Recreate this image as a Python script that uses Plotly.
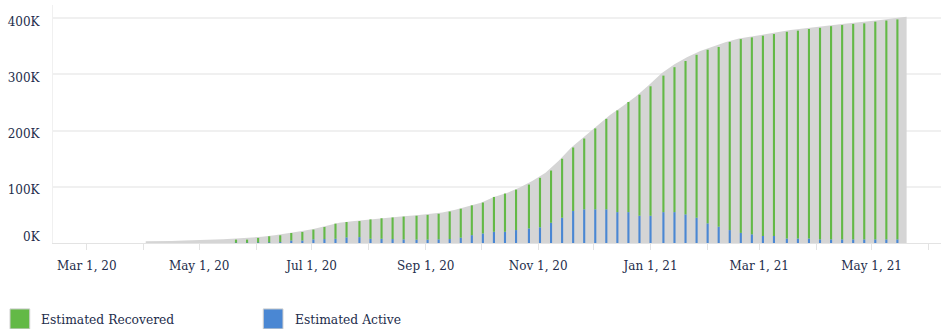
import plotly.graph_objects as go

# Estimated active / recovered cases (thousands) at each sample date
sample_dates = [
    "2020-05-21", "2020-05-27", "2020-06-02", "2020-06-08", "2020-06-14", "2020-06-20",
    "2020-06-26", "2020-07-02", "2020-07-08", "2020-07-14", "2020-07-20", "2020-07-27",
    "2020-08-02", "2020-08-08", "2020-08-14", "2020-08-20", "2020-08-27", "2020-09-02",
    "2020-09-08", "2020-09-14", "2020-09-20", "2020-09-26", "2020-10-02", "2020-10-08",
    "2020-10-14", "2020-10-20", "2020-10-27", "2020-11-02", "2020-11-08", "2020-11-14",
    "2020-11-20", "2020-11-26", "2020-12-02", "2020-12-08", "2020-12-14", "2020-12-20",
    "2020-12-26", "2021-01-01", "2021-01-08", "2021-01-14", "2021-01-20", "2021-01-26",
    "2021-02-01", "2021-02-07", "2021-02-13", "2021-02-19", "2021-02-25", "2021-03-03",
    "2021-03-09", "2021-03-16", "2021-03-22", "2021-03-28", "2021-04-03", "2021-04-09",
    "2021-04-15", "2021-04-21", "2021-04-27", "2021-05-03", "2021-05-09", "2021-05-15",
]
active_k = [
    0.5, 0.5, 0.8, 1, 1.5, 4.5, 4.5, 6.5, 7, 7.5, 10, 10.5,
    7.5, 7.5, 7, 6.5, 6, 6, 6.5, 7, 9.5, 14, 17, 20,
    20, 23, 26, 28, 36, 45, 57, 60, 60, 60, 55, 55,
    48.5, 48.5, 55, 55, 51, 45, 35, 29, 23, 18, 15.5, 12.5,
    12.5, 8, 8, 8, 6.5, 6.5, 6.5, 6.5, 6.5, 6.5, 6.5, 6.5,
]
recovered_k = [
    5.5, 5.5, 8.2, 11, 12.2, 13.3, 15.1, 17.3, 21.5, 27, 27.4, 28.5,
    34.5, 36.5, 38.5, 40.5, 42.5, 44, 45.5, 49, 51.5, 53, 55, 62,
    68, 72, 78, 88, 93, 105, 113, 126, 144, 161, 181, 196,
    215.5, 230.5, 243, 258, 273, 290, 309, 320, 335, 345, 350.5, 356.5,
    359.5, 368, 370, 373, 376.5, 379.5, 381.5, 383.5, 384.5, 387.5, 389.5, 391.5,
]

# Total cases (thousands), weekly
total_dates = [
    "2020-04-02", "2020-04-09", "2020-04-16", "2020-04-23", "2020-04-30", "2020-05-07",
    "2020-05-14", "2020-05-21", "2020-05-28", "2020-06-04", "2020-06-11", "2020-06-18",
    "2020-06-25", "2020-07-02", "2020-07-09", "2020-07-16", "2020-07-23", "2020-07-30",
    "2020-08-06", "2020-08-13", "2020-08-20", "2020-08-27", "2020-09-03", "2020-09-10",
    "2020-09-17", "2020-09-24", "2020-10-01", "2020-10-08", "2020-10-15", "2020-10-22",
    "2020-10-29", "2020-11-05", "2020-11-12", "2020-11-19", "2020-11-26", "2020-12-03",
    "2020-12-10", "2020-12-17", "2020-12-24", "2020-12-31", "2021-01-07", "2021-01-14",
    "2021-01-21", "2021-01-28", "2021-02-04", "2021-02-11", "2021-02-18", "2021-02-25",
    "2021-03-04", "2021-03-11", "2021-03-18", "2021-03-25", "2021-04-01", "2021-04-08",
    "2021-04-15", "2021-04-22", "2021-04-29", "2021-05-06", "2021-05-13", "2021-05-20",
]
total_k = [
    3, 3, 3.5, 4.5, 5, 5.3, 6.5, 8, 9, 11, 14, 17,
    21, 25, 30, 36, 38.5, 41, 43.5, 45.5, 47.5, 49.5, 51.5, 54.5,
    59, 65.5, 71.5, 82, 89, 99, 111, 125, 146, 170, 189, 208,
    228, 244, 261, 281, 302, 318, 331, 342, 350, 358, 364, 368,
    372, 375, 379, 382, 384, 387, 390, 392, 394.5, 397, 400, 403,
]

y_ticks = [0, 100, 200, 300, 400]
y_tick_labels = ["", "100K", "200K", "300K", "400K"]
zero_label = "0K"

FONT = "DejaVu Serif"
TEXT = "#232d4b"
GREEN = "#63b946"
BLUE = "#4a87d3"
GRAY = "#d5d5d5"
DAY_MS = 86400000

fig = go.Figure()

# grey total area on the base axes
fig.add_trace(go.Scatter(
    x=total_dates, y=total_k, mode="lines", line=dict(width=0, shape="linear"),
    fill="tozeroy", fillcolor=GRAY, hoverinfo="skip", showlegend=False,
    xaxis="x", yaxis="y",
))

# thin stacked bars on overlaying axes so they sit above the area
fig.add_trace(go.Bar(
    x=sample_dates, y=active_k, base=0, width=1.15 * DAY_MS,
    marker=dict(color=BLUE, line=dict(width=0)), name="Estimated Active",
    showlegend=False, xaxis="x2", yaxis="y2",
))
fig.add_trace(go.Bar(
    x=sample_dates, y=recovered_k, base=active_k, width=1.15 * DAY_MS,
    marker=dict(color=GREEN, line=dict(width=0)), name="Estimated Recovered",
    showlegend=False, xaxis="x2", yaxis="y2",
))

x_range = ["2020-02-11 16:00", "2021-06-07 16:00"]
y_range = [0, 423.7]

fig.update_layout(
    width=941, height=329,
    margin=dict(l=53, r=0, t=5, b=86),
    paper_bgcolor="white", plot_bgcolor="white",
    barmode="overlay",
    font=dict(family=FONT, size=12, color=TEXT),
    xaxis=dict(
        type="date", range=x_range,
        tick0="2020-03-01", dtick="M2", tickformat="%b %-d, %y",
        ticks="outside", ticklen=6, tickcolor="#e3e3e3", tickwidth=1,
        minor=dict(dtick="M1", tick0="2020-03-01", ticks="outside", ticklen=6,
                   tickcolor="#e3e3e3", showgrid=False),
        showgrid=False, showline=True, linecolor="#e3e3e3", linewidth=1,
        zeroline=False, ticklabelstandoff=6,
        tickfont=dict(family=FONT, size=12, color=TEXT),
    ),
    yaxis=dict(
        range=y_range, tickmode="array", tickvals=y_ticks, ticktext=y_tick_labels,
        showgrid=True, gridcolor="#f0f0f0", gridwidth=2,
        showline=True, linecolor="#f0f0f0", linewidth=1,
        zeroline=False, ticks="", ticklabelstandoff=10, ticklabelshift=3,
        tickfont=dict(family=FONT, size=12, color=TEXT),
    ),
    xaxis2=dict(type="date", overlaying="x", matches="x", visible=False),
    yaxis2=dict(overlaying="y", matches="y", visible=False),
)

# the zero label sits just above the baseline
fig.add_annotation(xref="paper", yref="y", x=0, y=y_ticks[0], text=zero_label,
                   showarrow=False, xanchor="right", yanchor="middle",
                   xshift=-10, yshift=6, font=dict(family=FONT, size=12, color=TEXT))

# legend drawn as swatches with labels beneath the plot
legend_items = [("Estimated Recovered", GREEN, -0.0484), ("Estimated Active", BLUE, 0.2368)]
for label, color, x0 in legend_items:
    fig.add_shape(type="rect", xref="paper", yref="paper",
                  x0=x0, x1=x0 + 0.0222, y0=-0.361, y1=-0.277,
                  fillcolor=color, line=dict(color="#cfcfcf", width=1))
    fig.add_annotation(xref="paper", yref="paper", x=x0 + 0.033, y=-0.323,
                       text=label, showarrow=False, xanchor="left", yanchor="middle",
                       font=dict(family=FONT, size=12.3, color=TEXT))

fig.write_html("out.html")
